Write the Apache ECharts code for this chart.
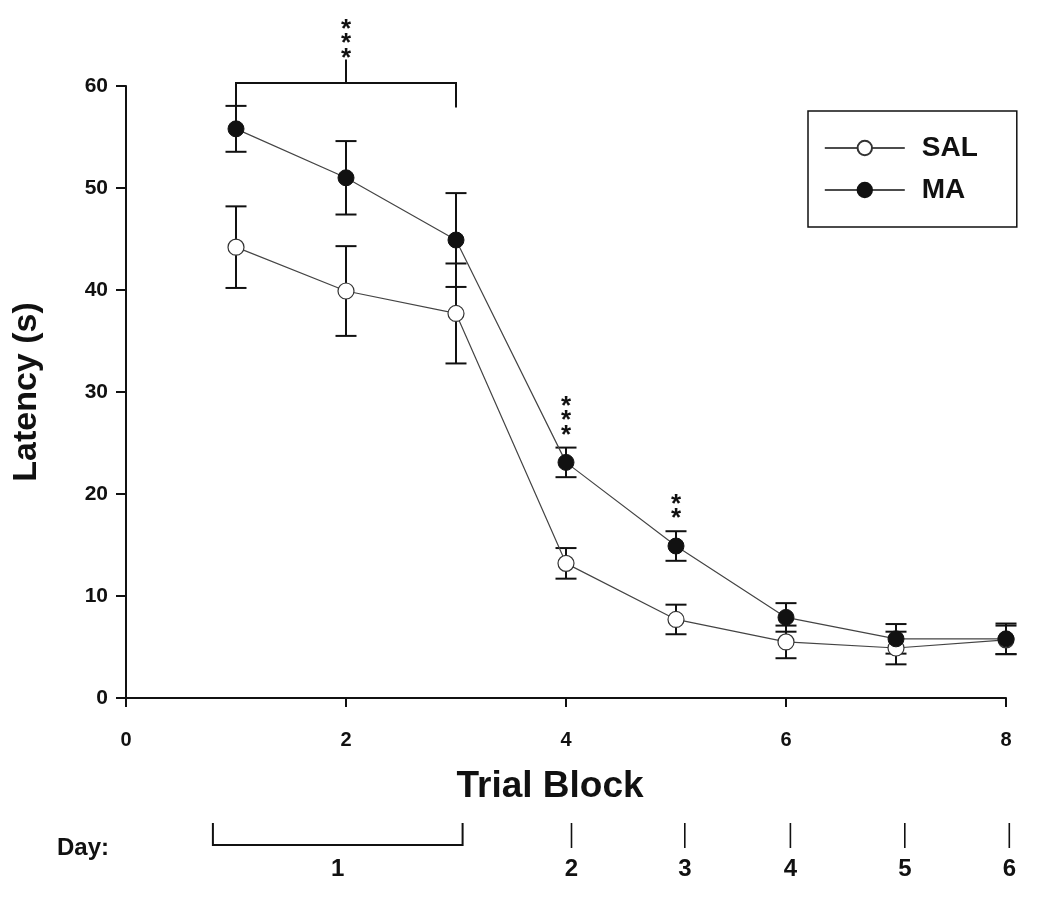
<!DOCTYPE html>
<html>
<head>
<meta charset="utf-8">
<script src="https://cdn.jsdelivr.net/npm/echarts@6/dist/echarts.min.js"></script>
<style>
html, body { margin: 0; padding: 0; background: #fff; }
#chart { width: 1050px; height: 914px; }
</style>
</head>
<body>
<div id="chart"></div>
<script>
// trial blocks and group means / SEM
const blocks = [1, 2, 3, 4, 5, 6, 7, 8];
const salMean = [44.2, 39.9, 37.7, 13.2, 7.7, 5.5, 4.9, 5.7];
const salErr = [4.0, 4.4, 4.9, 1.5, 1.45, 1.6, 1.6, 1.4];
const maMean = [55.8, 51.0, 44.9, 23.1, 14.9, 7.9, 5.8, 5.8];
const maErr = [2.25, 3.6, 4.6, 1.45, 1.45, 1.4, 1.45, 1.5];

// significance marks (MA vs SAL)
const sigBlocks = [4, 5];
const sigStars = ['***', '**'];
const bracketBlocks = [1, 3];
const bracketStars = '***';
const bracketLevel = [60.3, 58.1, 57.9, 62.6]; // top, left end, right end, stem

// day annotation under the x axis (in trial-block units)
const dayNames = ['1', '2', '3', '4', '5', '6'];
const dayFrom = [0.79, 4.05, 5.08, 6.04, 7.08, 8.03];
const dayTo = [3.06, 4.05, 5.08, 6.04, 7.08, 8.03];

const yTicks = { min: 0, max: 60, interval: 10 };
const xTicks = { min: 0, max: 8, interval: 2 };

const FONT = "'Liberation Sans', Arial, sans-serif";
const INK = '#111';

function errData(mean, err) {
    return blocks.map((b, i) => [b, mean[i] - err[i], mean[i] + err[i]]);
}

function errorBarItem(params, api) {
    const x = api.value(0);
    const lo = api.coord([x, api.value(1)]);
    const hi = api.coord([x, api.value(2)]);
    const w = 10.5;
    const st = { stroke: INK, lineWidth: 2 };
    return {
        type: 'group',
        children: [
            { type: 'line', shape: { x1: hi[0], y1: hi[1], x2: lo[0], y2: lo[1] }, style: st },
            { type: 'line', shape: { x1: hi[0] - w, y1: hi[1], x2: hi[0] + w, y2: hi[1] }, style: st },
            { type: 'line', shape: { x1: lo[0] - w, y1: lo[1], x2: lo[0] + w, y2: lo[1] }, style: st }
        ]
    };
}

// stars are stacked one above the other, like the rotated labels of the original
function starStack(cx, bottomY, n) {
    const out = [];
    for (let k = 0; k < n; k++) {
        out.push({
            type: 'text',
            style: {
                text: '*', x: cx, y: bottomY - k * 14.5 + 6,
                align: 'center', verticalAlign: 'middle',
                font: 'bold 26px ' + FONT, fill: INK
            }
        });
    }
    return out;
}

function sigItem(params, api) {
    const i = params.dataIndex;
    const b = sigBlocks[i];
    const idx = blocks.indexOf(b);
    const p = api.coord([b, maMean[idx] + maErr[idx]]);
    return { type: 'group', children: starStack(p[0], p[1] - 18, sigStars[i].length) };
}

function bracketItem(params, api) {
    const a = api.coord([bracketBlocks[0], bracketLevel[0]]);
    const b = api.coord([bracketBlocks[1], bracketLevel[0]]);
    const aEnd = api.coord([bracketBlocks[0], bracketLevel[1]]);
    const bEnd = api.coord([bracketBlocks[1], bracketLevel[2]]);
    const mid = (a[0] + b[0]) / 2;
    const stem = api.coord([(bracketBlocks[0] + bracketBlocks[1]) / 2, bracketLevel[3]]);
    const st = { stroke: INK, lineWidth: 2 };
    return {
        type: 'group',
        children: [
            { type: 'polyline', shape: { points: [[aEnd[0], aEnd[1]], [a[0], a[1]], [b[0], b[1]], [bEnd[0], bEnd[1]]] }, style: Object.assign({ fill: null }, st) },
            { type: 'line', shape: { x1: mid, y1: a[1], x2: mid, y2: stem[1] }, style: st }
        ].concat(starStack(mid, stem[1] - 7, bracketStars.length))
    };
}

function dayItem(params, api) {
    const i = params.dataIndex;
    const base = api.coord([0, 0])[1];
    const x1 = api.coord([dayFrom[i], 0])[0];
    const x2 = api.coord([dayTo[i], 0])[0];
    const st = { stroke: INK, lineWidth: 1.6 };
    const kids = [];
    if (x1 === x2) {
        kids.push({ type: 'line', shape: { x1: x1, y1: base + 125, x2: x1, y2: base + 150 }, style: st });
    } else {
        kids.push({ type: 'polyline', shape: { points: [[x1, base + 125], [x1, base + 147], [x2, base + 147], [x2, base + 125]] }, style: { stroke: INK, lineWidth: 2, fill: null } });
    }
    kids.push({
        type: 'text',
        style: {
            text: dayNames[i], x: (x1 + x2) / 2, y: base + 171,
            align: 'center', verticalAlign: 'middle',
            font: 'bold 24px ' + FONT, fill: INK
        }
    });
    return { type: 'group', children: kids };
}

const chart = echarts.init(document.getElementById('chart'));
chart.setOption({
    animation: false,
    backgroundColor: '#fff',
    grid: { left: 126, right: 44, top: 86, bottom: 216 },
    xAxis: {
        type: 'value',
        min: xTicks.min, max: xTicks.max, interval: xTicks.interval,
        splitLine: { show: false },
        axisLine: { lineStyle: { color: INK, width: 2 } },
        axisTick: { length: 9, lineStyle: { color: INK, width: 2 } },
        axisLabel: { color: INK, fontFamily: FONT, fontWeight: 'bold', fontSize: 20, margin: 32 },
        name: 'Trial Block',
        nameLocation: 'middle',
        nameGap: 70,
        nameTextStyle: { color: INK, fontFamily: FONT, fontWeight: 'bold', fontSize: 37, padding: [0, 32, 0, 0] }
    },
    yAxis: {
        type: 'value',
        min: yTicks.min, max: yTicks.max, interval: yTicks.interval,
        splitLine: { show: false },
        axisLine: { show: true, lineStyle: { color: INK, width: 2 } },
        axisTick: { show: true, length: 10, lineStyle: { color: INK, width: 2 } },
        axisLabel: { color: INK, fontFamily: FONT, fontWeight: 'bold', fontSize: 21, margin: 18 },
        name: 'Latency (s)',
        nameLocation: 'middle',
        nameGap: 82,
        nameTextStyle: { color: INK, fontFamily: FONT, fontWeight: 'bold', fontSize: 34 }
    },
    legend: {
        data: ['SAL', 'MA'],
        orient: 'vertical',
        left: 808,
        top: 111,
        padding: [23, 39, 23, 16],
        itemWidth: 80,
        itemHeight: 18,
        itemGap: 14,
        borderColor: INK,
        borderWidth: 1.5,
        lineStyle: { color: INK, width: 1.6 },
        textStyle: { color: INK, fontFamily: FONT, fontWeight: 'bold', fontSize: 28, padding: [0, 0, 0, 12] }
    },
    graphic: [{
        type: 'text',
        left: 57,
        top: 836,
        style: { text: 'Day:', font: 'bold 24px ' + FONT, fill: INK }
    }],
    series: [
        {
            type: 'custom', name: 'SAL err', renderItem: errorBarItem,
            data: errData(salMean, salErr), encode: { x: 0, y: [1, 2] }, z: 1, silent: true
        },
        {
            type: 'custom', name: 'MA err', renderItem: errorBarItem,
            data: errData(maMean, maErr), encode: { x: 0, y: [1, 2] }, z: 1, silent: true
        },
        {
            name: 'SAL', type: 'line',
            data: blocks.map((b, i) => [b, salMean[i]]),
            symbol: 'circle', symbolSize: 16,
            lineStyle: { color: '#444', width: 1.2 },
            itemStyle: { color: '#fff', borderColor: '#333', borderWidth: 1.2 },
            z: 3
        },
        {
            name: 'MA', type: 'line',
            data: blocks.map((b, i) => [b, maMean[i]]),
            symbol: 'circle', symbolSize: 16,
            lineStyle: { color: '#444', width: 1.2 },
            itemStyle: { color: '#111', borderColor: '#111', borderWidth: 1 },
            z: 4
        },
        {
            type: 'custom', name: 'sig', renderItem: sigItem,
            data: sigBlocks.map(b => [b, 0]), encode: { x: 0, y: 1 }, clip: false, z: 5, silent: true
        },
        {
            type: 'custom', name: 'bracket', renderItem: bracketItem,
            data: [[bracketBlocks[0], bracketLevel[0]]], encode: { x: 0, y: 1 }, clip: false, z: 5, silent: true
        },
        {
            type: 'custom', name: 'days', renderItem: dayItem,
            data: dayFrom.map((f, i) => [f, 0]), encode: { x: 0, y: 1 }, clip: false, z: 5, silent: true
        }
    ]
});
</script>
</body>
</html>
